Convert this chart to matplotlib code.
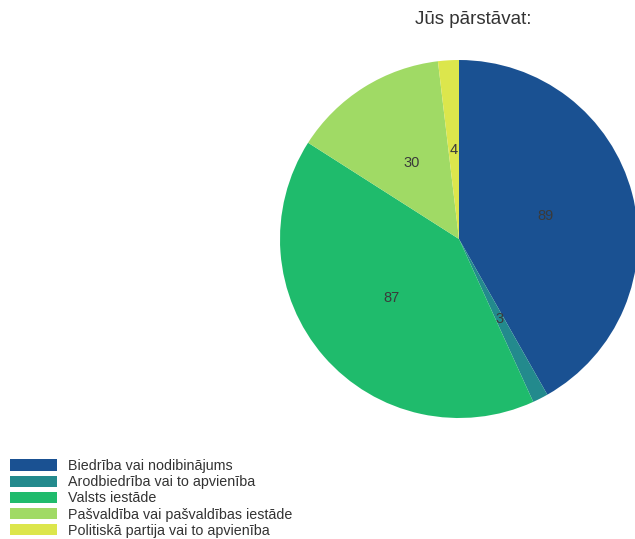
import matplotlib
matplotlib.use("Agg")
import matplotlib.pyplot as plt

plt.rcParams['font.family'] = ['Liberation Sans', 'DejaVu Sans']

categories = ["Biedrība vai nodibinājums", "Arodbiedrība vai to apvienība", "Valsts iestāde",
              "Pašvaldība vai pašvaldības iestāde", "Politiskā partija vai to apvienība"]
values = [89, 3, 87, 30, 4]
colors = ["#1a5192", "#238a8d", "#1fbb6c", "#a0da65", "#dce64c"]
title = "Jūs pārstāvat:"

W, H = 635, 539
fig = plt.figure(figsize=(W / 100, H / 100), dpi=100)
cx, cy, r = 459, 239, 179
ax = fig.add_axes([(cx - r) / W, 1 - (cy + r) / H, 2 * r / W, 2 * r / H])
wedges, texts = ax.pie(values, colors=colors, startangle=90, counterclock=False,
                       labels=[str(v) for v in values], labeldistance=0.5,
                       radius=1.0, wedgeprops=dict(linewidth=0),
                       textprops=dict(fontsize=10.5, color="#3a3a3a"))
for t in texts:
    t.set_ha("center")
    t.set_va("center")
ax.set_xlim(-1, 1)
ax.set_ylim(-1, 1)
ax.set_aspect("equal")
ax.axis("off")

fig.text(473 / W, 1 - 19 / H, title, ha="center", va="center", fontsize=13.5, color="#333333")

fs = 10.3
px = fs * 100 / 72
leg = fig.legend(wedges, categories, loc="upper left", bbox_to_anchor=(10 / W, 1 - 459 / H),
                 frameon=False, fontsize=fs, handlelength=47 / px, handleheight=12 / px,
                 labelspacing=(16.5 - px) / px, handletextpad=11 / px, borderaxespad=0, borderpad=0)
for t in leg.get_texts():
    t.set_color("#333333")

fig.savefig("out.png", dpi=100)
